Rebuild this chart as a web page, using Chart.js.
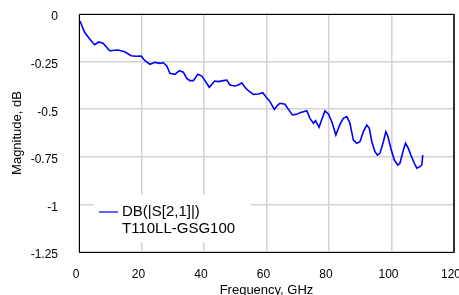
<!DOCTYPE html>
<html>
<head>
<meta charset="utf-8">
<script src="https://cdn.jsdelivr.net/npm/chart.js@4/dist/chart.umd.min.js"></script>
<style>
  html, body { margin: 0; padding: 0; background: #fff; }
  #wrap { width: 459px; height: 295px; }
</style>
</head>
<body>
<div id="wrap"><canvas id="s21"></canvas></div>
<script>
// S21 magnitude trace
const freq = [0.3, 1.8, 3.4, 5.0, 6.3, 7.7, 9.8, 12.5, 14.6, 16.7,
  18.3, 19.9, 21.1, 22.7, 24.3, 25.9, 27.0, 28.1, 29.1, 30.7,
  32.1, 33.4, 34.5, 35.5, 36.6, 38.0, 39.3, 40.3, 41.7, 43.4,
  44.6, 46.2, 47.3, 48.3, 49.9, 51.0, 52.1, 53.1, 54.2, 55.8,
  57.4, 58.8, 59.8, 61.1, 62.5, 63.6, 64.3, 65.9, 67.0, 68.3,
  69.7, 70.7, 71.8, 72.9, 73.9, 75.0, 75.7, 76.8, 78.7, 79.8,
  80.9, 82.2, 83.5, 84.6, 85.7, 86.7, 87.8, 88.9, 89.9, 91.0,
  92.1, 92.9, 93.7, 94.7, 95.5, 96.3, 97.4, 98.2, 98.8, 99.8,
  100.9, 102.0, 102.7, 103.8, 104.5, 105.4, 106.2, 107.3, 108.1, 109.1,
  109.7, 110.0];
const mag = [-0.037, -0.096, -0.131, -0.161, -0.147, -0.154, -0.193, -0.189, -0.198, -0.219,
  -0.222, -0.221, -0.245, -0.264, -0.254, -0.259, -0.256, -0.273, -0.312, -0.317,
  -0.298, -0.306, -0.338, -0.350, -0.350, -0.317, -0.326, -0.350, -0.385, -0.352,
  -0.355, -0.350, -0.347, -0.373, -0.378, -0.373, -0.361, -0.385, -0.403, -0.422,
  -0.420, -0.413, -0.434, -0.460, -0.501, -0.478, -0.469, -0.474, -0.501, -0.530,
  -0.527, -0.518, -0.513, -0.508, -0.548, -0.574, -0.560, -0.595, -0.509, -0.525,
  -0.566, -0.636, -0.580, -0.548, -0.539, -0.574, -0.662, -0.679, -0.671, -0.618,
  -0.583, -0.600, -0.671, -0.723, -0.741, -0.732, -0.671, -0.618, -0.640, -0.706,
  -0.767, -0.793, -0.784, -0.714, -0.679, -0.706, -0.741, -0.784, -0.810, -0.802,
  -0.793, -0.741];
const seriesName = 'DB(|S[2,1]|)';
const deviceName = 'T110LL-GSG100';

const points = freq.map((f, i) => ({ x: f, y: mag[i] }));

// white legend box sitting inside the plot, like the original
const legendBox = {
  id: 'legendBox',
  afterDatasetsDraw(chart) {
    const c = chart.ctx;
    c.save();
    c.fillStyle = '#fff';
    c.fillRect(94, 195, 157, 47);
    c.strokeStyle = '#0000ff';
    c.lineWidth = 1.2;
    c.beginPath();
    c.moveTo(99, 212);
    c.lineTo(118, 212);
    c.stroke();
    c.fillStyle = '#000';
    c.font = '15px "Liberation Sans", Arial, sans-serif';
    c.textBaseline = 'middle';
    c.fillText(seriesName, 122, 212);
    c.fillText(deviceName, 122, 229);
    c.restore();
  }
};

// frame around the plot area
const frame = {
  id: 'frame',
  afterDraw(chart) {
    const a = chart.chartArea, c = chart.ctx;
    c.save();
    c.strokeStyle = '#000';
    c.lineWidth = 1;
    c.beginPath();
    c.moveTo(a.left + 0.5, a.bottom + 0.5);
    c.lineTo(a.left + 0.5, a.top + 0.5);
    c.lineTo(a.right, a.top + 0.5);
    c.moveTo(a.left, a.bottom + 0.5);
    c.lineTo(a.right, a.bottom + 0.5);
    c.stroke();
    c.strokeStyle = '#333';
    c.lineWidth = 2;
    c.beginPath();
    c.moveTo(a.right, a.top);
    c.lineTo(a.right, a.bottom + 1);
    c.stroke();
    c.restore();
  }
};

const font = { family: '"Liberation Sans", Arial, sans-serif', size: 12 };

new Chart(document.getElementById('s21'), {
  type: 'line',
  data: {
    datasets: [{
      label: seriesName,
      data: points,
      borderColor: '#0000ff',
      borderWidth: 1.6,
      pointRadius: 0,
      tension: 0
    }]
  },
  options: {
    responsive: true,
    maintainAspectRatio: false,
    animation: false,
    layout: { padding: { left: 0, right: 5, top: 14, bottom: 0 } },
    plugins: { legend: { display: false }, tooltip: { enabled: false } },
    scales: {
      x: {
        type: 'linear',
        min: 0,
        max: 120,
        ticks: { stepSize: 20, color: '#000', font: font, padding: 15, labelOffset: -3, maxRotation: 0 },
        grid: { color: '#d2d2d2', lineWidth: 1.5, drawTicks: false },
        border: { display: false },
        title: { display: true, text: 'Frequency, GHz', color: '#000', font: { family: font.family, size: 13 }, padding: { top: 0, bottom: -3 } },
        afterFit(s) { s.height = 43; s.paddingLeft = 0; s.paddingRight = 0; }
      },
      y: {
        min: -1.25,
        max: 0,
        ticks: { stepSize: 0.25, color: '#000', font: font, padding: 21, labelOffset: 3,
          callback: v => String(+v.toFixed(2)) },
        grid: { color: '#d2d2d2', lineWidth: 1.5, drawTicks: false },
        border: { display: false },
        title: { display: true, text: 'Magnitude, dB', color: '#000', font: { family: font.family, size: 13 }, padding: { top: 10, bottom: 0 } },
        afterFit(s) { s.width = 79; s.paddingTop = 0; s.paddingBottom = 0; }
      }
    }
  },
  plugins: [legendBox, frame]
});
</script>
</body>
</html>
